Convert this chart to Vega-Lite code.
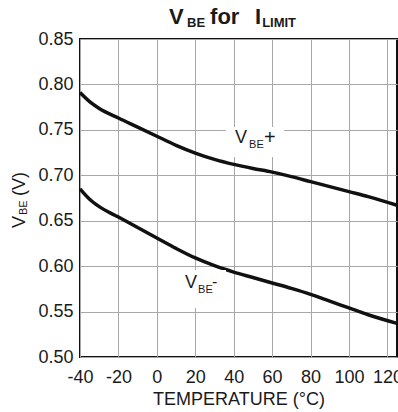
{
  "$schema": "https://vega.github.io/schema/vega-lite/v6.json",
  "width": 317,
  "height": 318,
  "autosize": {"type": "none"},
  "padding": {"left": 80, "top": 39, "right": 1, "bottom": 55},
  "background": "white",
  "data": {"values": [{}]},
  "config": {
    "font": "Liberation Sans",
    "view": {"stroke": "#111", "strokeWidth": 2},
    "axis": {
      "grid": true,
      "gridColor": "#a8a8a8",
      "gridWidth": 1,
      "domain": false,
      "ticks": false,
      "labelFontSize": 18,
      "labelColor": "#1a1a1a",
      "labelFont": "Liberation Sans",
      "labelFlush": false,
      "labelOverlap": false,
      "labelBound": false,
      "titleFont": "Liberation Sans",
      "titleFontWeight": "normal",
      "titleFontSize": 18,
      "titleColor": "#1a1a1a"
    },
    "text": {"font": "Liberation Sans", "color": "#1a1a1a", "align": "left", "baseline": "alphabetic"}
  },
  "layer": [
    {
      "data": {
        "values": [
          {"curve": "VBE+", "temp": -40, "vbe": 0.791},
          {"curve": "VBE+", "temp": -35, "vbe": 0.781},
          {"curve": "VBE+", "temp": -30, "vbe": 0.7735},
          {"curve": "VBE+", "temp": -20, "vbe": 0.763},
          {"curve": "VBE+", "temp": -10, "vbe": 0.753},
          {"curve": "VBE+", "temp": 0, "vbe": 0.743},
          {"curve": "VBE+", "temp": 10, "vbe": 0.733},
          {"curve": "VBE+", "temp": 20, "vbe": 0.7245},
          {"curve": "VBE+", "temp": 30, "vbe": 0.7175},
          {"curve": "VBE+", "temp": 40, "vbe": 0.712},
          {"curve": "VBE+", "temp": 50, "vbe": 0.7075},
          {"curve": "VBE+", "temp": 60, "vbe": 0.7035},
          {"curve": "VBE+", "temp": 70, "vbe": 0.6985},
          {"curve": "VBE+", "temp": 80, "vbe": 0.693},
          {"curve": "VBE+", "temp": 90, "vbe": 0.6875},
          {"curve": "VBE+", "temp": 100, "vbe": 0.682},
          {"curve": "VBE+", "temp": 110, "vbe": 0.6765},
          {"curve": "VBE+", "temp": 125, "vbe": 0.667},
          {"curve": "VBE-", "temp": -40, "vbe": 0.685},
          {"curve": "VBE-", "temp": -35, "vbe": 0.6736},
          {"curve": "VBE-", "temp": -30, "vbe": 0.6655},
          {"curve": "VBE-", "temp": -20, "vbe": 0.654},
          {"curve": "VBE-", "temp": -10, "vbe": 0.6425},
          {"curve": "VBE-", "temp": 0, "vbe": 0.631},
          {"curve": "VBE-", "temp": 10, "vbe": 0.6195},
          {"curve": "VBE-", "temp": 20, "vbe": 0.609},
          {"curve": "VBE-", "temp": 30, "vbe": 0.6005},
          {"curve": "VBE-", "temp": 40, "vbe": 0.5935},
          {"curve": "VBE-", "temp": 50, "vbe": 0.5875},
          {"curve": "VBE-", "temp": 60, "vbe": 0.5815},
          {"curve": "VBE-", "temp": 70, "vbe": 0.5755},
          {"curve": "VBE-", "temp": 80, "vbe": 0.569},
          {"curve": "VBE-", "temp": 90, "vbe": 0.5615},
          {"curve": "VBE-", "temp": 100, "vbe": 0.554},
          {"curve": "VBE-", "temp": 110, "vbe": 0.5465},
          {"curve": "VBE-", "temp": 125, "vbe": 0.537}
        ]
      },
      "mark": {"type": "line", "interpolate": "monotone", "color": "#111", "strokeWidth": 3.5},
      "encoding": {
        "x": {
          "field": "temp",
          "type": "quantitative",
          "scale": {"domain": [-40, 125], "nice": false, "zero": false},
          "axis": {
            "values": [-40, -20, 0, 20, 40, 60, 80, 100, 120],
            "tickCount": 20,
            "labelExpr": "replace(datum.label, '\u2212', '-')",
            "labelOverlap": false,
            "title": "TEMPERATURE (°C)",
            "labelPadding": 11,
            "titlePadding": 4
          }
        },
        "y": {
          "field": "vbe",
          "type": "quantitative",
          "scale": {"domain": [0.5, 0.85], "nice": false, "zero": false},
          "axis": {
            "values": [0.5, 0.55, 0.6, 0.65, 0.7, 0.75, 0.8, 0.85],
            "tickCount": 20,
            "format": ".2f",
            "labelOverlap": false,
            "title": null,
            "labelPadding": 7
          }
        },
        "detail": {"field": "curve"}
      }
    },
    {
      "mark": {"type": "rect", "color": "white"},
      "encoding": {"x": {"datum": 36.0}, "x2": {"datum": 66.25}, "y": {"datum": 0.7531}, "y2": {"datum": 0.7201}}
    },
    {
      "mark": {"type": "rect", "color": "white"},
      "encoding": {"x": {"datum": 8.0}, "x2": {"datum": 36.0}, "y": {"datum": 0.5958}, "y2": {"datum": 0.554}}
    },
    {
      "mark": {"type": "text", "text": "V", "fontSize": 18},
      "encoding": {"x": {"datum": 40.73}, "y": {"datum": 0.7352}}
    },
    {
      "mark": {"type": "text", "text": "BE", "fontSize": 11},
      "encoding": {"x": {"datum": 48.02}, "y": {"datum": 0.7295}}
    },
    {
      "mark": {"type": "text", "text": "+", "fontSize": 20},
      "encoding": {"x": {"datum": 55.83}, "y": {"datum": 0.7344}}
    },
    {
      "mark": {"type": "text", "text": "V", "fontSize": 18},
      "encoding": {"x": {"datum": 14.69}, "y": {"datum": 0.5756}}
    },
    {
      "mark": {"type": "text", "text": "BE", "fontSize": 11},
      "encoding": {"x": {"datum": 21.46}, "y": {"datum": 0.5701}}
    },
    {
      "mark": {"type": "text", "text": "-", "fontSize": 16},
      "encoding": {"x": {"datum": 28.75}, "y": {"datum": 0.5765}}
    },
    {
      "mark": {"type": "text", "text": "V", "fontSize": 22, "fontWeight": "bold"},
      "encoding": {"x": {"datum": 6.35}, "y": {"datum": 0.8665}}
    },
    {
      "mark": {"type": "text", "text": "BE", "fontSize": 13, "fontWeight": "bold"},
      "encoding": {"x": {"datum": 15.73}, "y": {"datum": 0.8632}}
    },
    {
      "mark": {"type": "text", "text": "for", "fontSize": 22, "fontWeight": "bold"},
      "encoding": {"x": {"datum": 27.7}, "y": {"datum": 0.8665}}
    },
    {
      "mark": {"type": "text", "text": "I", "fontSize": 22, "fontWeight": "bold"},
      "encoding": {"x": {"datum": 51.1}, "y": {"datum": 0.8665}}
    },
    {
      "mark": {"type": "text", "text": "LIMIT", "fontSize": 13, "fontWeight": "bold"},
      "encoding": {"x": {"datum": 54.8}, "y": {"datum": 0.8632}}
    },
    {
      "mark": {"type": "text", "text": "V", "fontSize": 18, "angle": 270},
      "encoding": {"x": {"datum": -68.65}, "y": {"datum": 0.642}}
    },
    {
      "mark": {"type": "text", "text": "BE", "fontSize": 11, "angle": 270},
      "encoding": {"x": {"datum": -67.6}, "y": {"datum": 0.6563}}
    },
    {
      "mark": {"type": "text", "text": "(V)", "fontSize": 18, "angle": 270},
      "encoding": {"x": {"datum": -68.65}, "y": {"datum": 0.6772}}
    }
  ]
}
